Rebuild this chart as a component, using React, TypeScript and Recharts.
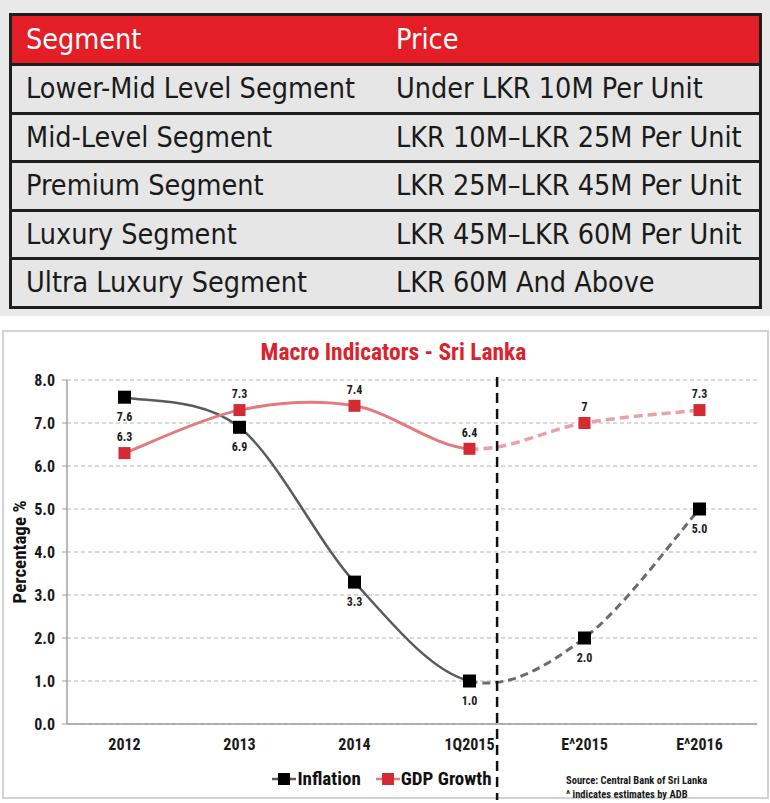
import React from 'react';
import {
  LineChart,
  Line,
  XAxis,
  YAxis,
  CartesianGrid,
  ReferenceLine,
  LabelList,
  Legend,
} from 'recharts';

// ---------- data ----------
const segments = [
  'Lower-Mid Level Segment',
  'Mid-Level Segment',
  'Premium Segment',
  'Luxury Segment',
  'Ultra Luxury Segment',
];
const prices = [
  'Under LKR 10M Per Unit',
  'LKR 10M–LKR 25M Per Unit',
  'LKR 25M–LKR 45M Per Unit',
  'LKR 45M–LKR 60M Per Unit',
  'LKR 60M And Above',
];
const tableHeaders = ['Segment', 'Price'];

const categories = ['2012', '2013', '2014', '1Q2015', 'E^2015', 'E^2016'];
const inflation = [7.6, 6.9, 3.3, 1.0, 2.0, 5.0];
const gdpGrowth = [6.3, 7.3, 7.4, 6.4, 7, 7.3];
const seriesNames = ['Inflation', 'GDP Growth'];
const yTicks = [0, 1, 2, 3, 4, 5, 6, 7, 8];
const lastActualIndex = 3; // 1Q2015: solid up to here, estimates dashed after
const separatorAt = 3.74; // actual/estimate divider, in category-band units from the left edge
const sourceLines = ['Source: Central Bank of Sri Lanka', '^ indicates estimates by ADB'];

const data = categories.map((cat, i) => ({
  cat,
  pos: i + 0.5,
  inflation: inflation[i],
  gdp: gdpGrowth[i],
}));

// ---------- styles ----------
const NARROW = '"Liberation Sans Narrow", "Arial Narrow", "Roboto Condensed", "Liberation Sans", Arial, sans-serif';
const TABLE_FONT = '"DejaVu Sans Condensed", "DejaVu Sans", sans-serif';
const INF_LINE = '#5a5a5a';
const INF_DASH = '#6b6b6b';
const INF_MARK = '#000000';
const GDP_LINE = '#e27b7f';
const GDP_DASH = '#eaa1a4';
const GDP_MARK = '#d42a34';

// Catmull-Rom (Excel-like smoothing) curve drawing only a range of segments
const makeCurve = (from: number, to: number) => (context: any) => {
  let pts: [number, number][] = [];
  return {
    areaStart() {},
    areaEnd() {},
    lineStart() {
      pts = [];
    },
    point(x: number, y: number) {
      pts.push([+x, +y]);
    },
    lineEnd() {
      const n = pts.length;
      const end = Math.min(to, n - 1);
      for (let i = from; i < end; i++) {
        const p0 = pts[Math.max(i - 1, 0)];
        const p1 = pts[i];
        const p2 = pts[i + 1];
        const p3 = pts[Math.min(i + 2, n - 1)];
        if (i === from) context.moveTo(p1[0], p1[1]);
        context.bezierCurveTo(
          p1[0] + (p2[0] - p0[0]) / 6,
          p1[1] + (p2[1] - p0[1]) / 6,
          p2[0] - (p3[0] - p1[0]) / 6,
          p2[1] - (p3[1] - p1[1]) / 6,
          p2[0],
          p2[1]
        );
      }
    },
  };
};

const solidCurve = makeCurve(0, lastActualIndex);
const dashedCurve = makeCurve(lastActualIndex, categories.length - 1);

const squareDot = (size: number, fill: string) => (props: any) => {
  const { cx, cy, index } = props;
  if (cx == null || cy == null) return <g key={`d-${index}`} />;
  return (
    <rect
      key={`sq-${fill}-${index}`}
      x={cx - size / 2}
      y={cy - size / 2}
      width={size}
      height={size}
      fill={fill}
    />
  );
};

const markerColor: Record<string, string> = { Inflation: INF_MARK, 'GDP Growth': GDP_MARK };

const renderLegend = (props: any) => {
  const { payload = [] } = props;
  const entries = seriesNames
    .map((n) => payload.find((e: any) => e.value === n && e.type !== 'none'))
    .filter(Boolean);
  return (
    <div
      style={{
        display: 'flex',
        justifyContent: 'center',
        alignItems: 'center',
        gap: 15,
        fontFamily: NARROW,
        fontWeight: 700,
        fontSize: 19,
        color: '#111',
        paddingRight: 6,
      }}
    >
      {entries.map((entry: any) => (
        <div key={entry.value} style={{ display: 'flex', alignItems: 'center' }}>
          <svg width={24} height={14} style={{ marginRight: 1 }}>
            <line x1={0} y1={7} x2={24} y2={7} stroke={entry.color} strokeWidth={2.5} />
            <rect x={6} y={1} width={12} height={12} fill={markerColor[entry.value] || entry.color} />
          </svg>
          <span>{entry.value}</span>
        </div>
      ))}
    </div>
  );
};

const yLabel = (props: any) => {
  const { viewBox } = props;
  const x = viewBox.x + 2;
  const y = viewBox.y + viewBox.height / 2;
  return (
    <text
      x={x}
      y={y}
      transform={`rotate(-90, ${x}, ${y})`}
      textAnchor="middle"
      dominantBaseline="central"
      fontFamily={NARROW}
      fontWeight={700}
      fontSize={19}
      fill="#111"
    >
      Percentage %
    </text>
  );
};

const separatorShape = (p: any) => {
  const top = Math.min(p.y1, p.y2);
  const bottom = Math.max(p.y1, p.y2);
  return (
    <line
      x1={p.x1}
      y1={top - 3}
      x2={p.x2}
      y2={bottom + 76}
      stroke="#111"
      strokeWidth={2.5}
      strokeDasharray="10 6"
    />
  );
};

export default function App() {
  const rowH = 48.5;
  return (
    <div style={{ position: 'relative', width: 770, height: 803, background: '#fff', overflow: 'hidden' }}>
      <style>{'body{margin:0}'}</style>

      {/* top panel with table */}
      <div style={{ position: 'absolute', left: 0, top: 0, width: 770, height: 316, background: '#e9e9e9' }} />
      <div
        style={{
          position: 'absolute',
          left: 9,
          top: 13,
          width: 753,
          boxSizing: 'border-box',
          border: '3px solid #1e1e1e',
          fontFamily: TABLE_FONT,
          fontSize: 28.5,
          color: '#1a1a1a',
        }}
      >
        <div
          style={{
            display: 'flex',
            height: 47,
            alignItems: 'center',
            background: '#e41e26',
            color: '#fff',
            borderBottom: '3px solid #1e1e1e',
          }}
        >
          <div style={{ width: 370, paddingLeft: 14, boxSizing: 'border-box' }}>{tableHeaders[0]}</div>
          <div style={{ paddingLeft: 14 }}>{tableHeaders[1]}</div>
        </div>
        {segments.map((s, i) => (
          <div
            key={s}
            style={{
              display: 'flex',
              height: rowH - 3,
              alignItems: 'center',
              background: '#e6e6e6',
              borderBottom: i < segments.length - 1 ? '3px solid #1e1e1e' : 'none',
            }}
          >
            <div style={{ width: 370, paddingLeft: 14, boxSizing: 'border-box' }}>{s}</div>
            <div style={{ paddingLeft: 14 }}>{prices[i]}</div>
          </div>
        ))}
      </div>

      {/* chart panel */}
      <div
        style={{
          position: 'absolute',
          left: 2,
          top: 330,
          width: 767,
          height: 469,
          boxSizing: 'border-box',
          border: '2px solid #d2d2d2',
        }}
      />
      <div
        style={{
          position: 'absolute',
          left: 0,
          width: 787,
          top: 337,
          textAlign: 'center',
          fontFamily: NARROW,
          fontWeight: 700,
          fontSize: 23.5,
          color: '#d9232e',
          lineHeight: '30px',
        }}
      >
        Macro Indicators - Sri Lanka
      </div>

      <div style={{ position: 'absolute', left: 0, top: 320 }}>
        <LineChart width={770} height={483} data={data} margin={{ top: 60, right: 13, bottom: 39, left: 17 }}>
          <CartesianGrid vertical={false} stroke="#b3b3b3" strokeDasharray="4 3" />
          <XAxis
            xAxisId="num"
            dataKey="pos"
            type="number"
            domain={[0, categories.length]}
            ticks={[0, 1, 2, 3, 4, 5, 6]}
            tickFormatter={() => ''}
            axisLine={false}
            tickLine={{ stroke: '#9c9c9c', strokeWidth: 1.5 }}
            tickSize={5}
            height={0}
            allowDataOverflow
          />
          <XAxis
            dataKey="cat"
            scale="band"
            axisLine={{ stroke: '#9c9c9c', strokeWidth: 1.5 }}
            tickLine={false}
            tickSize={0}
            tickMargin={15}
            height={40}
            interval={0}
            tick={{ fontFamily: NARROW, fontWeight: 700, fontSize: 16, fill: '#1a1a1a' }}
          />
          <YAxis
            domain={[0, 8]}
            ticks={yTicks}
            interval={0}
            tickFormatter={(v: number) => v.toFixed(1)}
            axisLine={{ stroke: '#a0a0a0', strokeWidth: 1.5 }}
            tickLine={{ stroke: '#a0a0a0' }}
            tickSize={5}
            tickMargin={7}
            width={50}
            tick={{ fontFamily: NARROW, fontWeight: 700, fontSize: 16, fill: '#1a1a1a' }}
            label={yLabel}
          />
          <Line
            dataKey="inflation"
            name="inflation-estimate"
            type={dashedCurve as any}
            stroke={INF_DASH}
            strokeWidth={3}
            strokeDasharray="8 5"
            dot={false}
            activeDot={false}
            legendType="none"
            isAnimationActive={false}
          />
          <Line
            dataKey="gdp"
            name="gdp-estimate"
            type={dashedCurve as any}
            stroke={GDP_DASH}
            strokeWidth={3.5}
            strokeDasharray="9 5"
            dot={false}
            activeDot={false}
            legendType="none"
            isAnimationActive={false}
          />
          <Line
            dataKey="inflation"
            name="Inflation"
            type={solidCurve as any}
            stroke={INF_LINE}
            strokeWidth={2.5}
            dot={squareDot(13, INF_MARK)}
            activeDot={false}
            isAnimationActive={false}
          >
            <LabelList
              dataKey="inflation"
              position="bottom"
              offset={15}
              formatter={(v: any) => Number(v).toFixed(1)}
              style={{ fontFamily: NARROW, fontWeight: 700, fontSize: 12, fill: '#1a1a1a' }}
            />
          </Line>
          <Line
            dataKey="gdp"
            name="GDP Growth"
            type={solidCurve as any}
            stroke={GDP_LINE}
            strokeWidth={3}
            dot={squareDot(12, GDP_MARK)}
            activeDot={false}
            isAnimationActive={false}
          >
            <LabelList
              dataKey="gdp"
              position="top"
              offset={12}
              formatter={(v: any) => String(v)}
              style={{ fontFamily: NARROW, fontWeight: 700, fontSize: 12, fill: '#1a1a1a' }}
            />
          </Line>
          <ReferenceLine xAxisId="num" x={separatorAt} shape={separatorShape} />
          <Legend
            layout="horizontal"
            verticalAlign="middle"
            align="center"
            content={renderLegend}
            wrapperStyle={{ position: 'absolute', left: 0, top: 447, width: 770 }}
          />
        </LineChart>
      </div>

      <div
        style={{
          position: 'absolute',
          left: 566,
          top: 774,
          fontFamily: NARROW,
          fontWeight: 700,
          fontSize: 10.5,
          lineHeight: '14px',
          color: '#1a1a1a',
        }}
      >
        {sourceLines.map((l) => (
          <div key={l}>{l}</div>
        ))}
      </div>
    </div>
  );
}
